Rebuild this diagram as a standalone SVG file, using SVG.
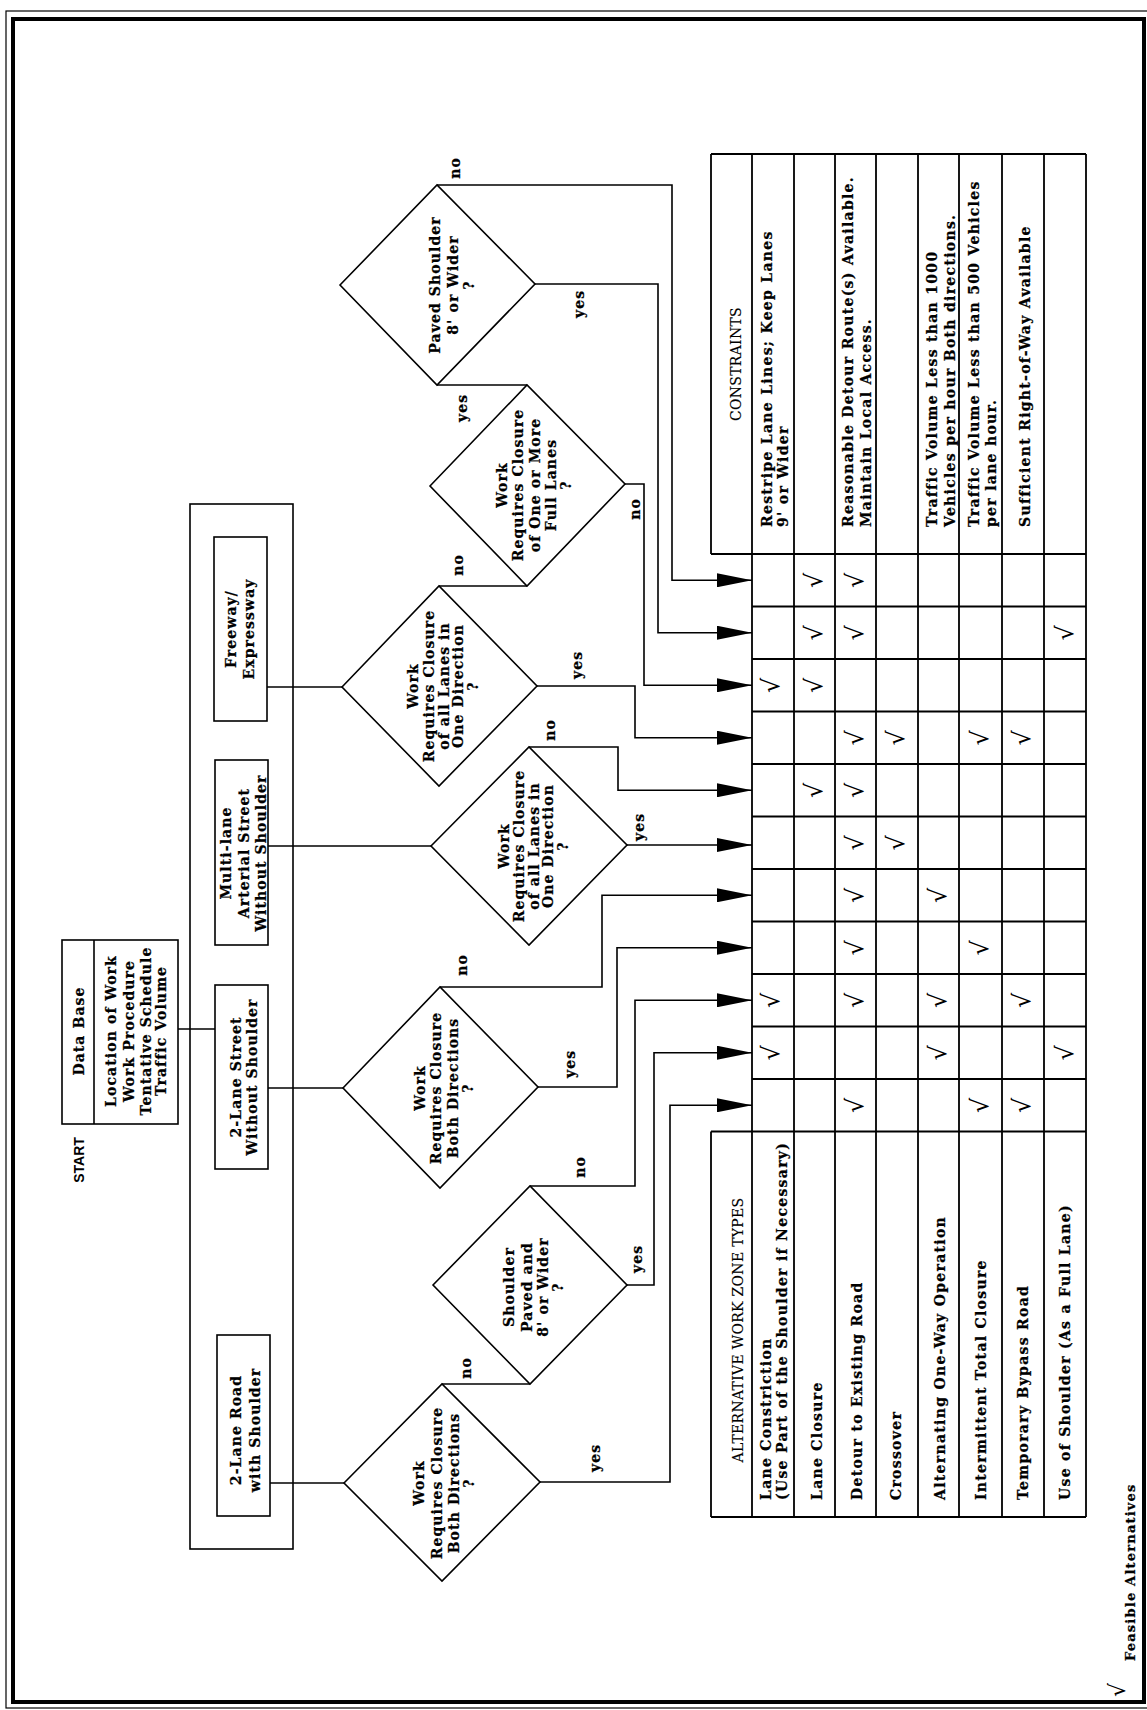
<svg xmlns="http://www.w3.org/2000/svg" width="1147" height="1710" viewBox="0 0 1147 1710">
<style>
.f{font-family:"DejaVu Serif","Liberation Serif",serif;font-weight:bold;font-size:14px;letter-spacing:1.1px;fill:#000;stroke:#000;stroke-width:0.25}
.m{text-anchor:middle}
.h{font-weight:normal;letter-spacing:0.3px;stroke-width:0.15}
.tt{letter-spacing:1.3px}
.s{font-family:"Liberation Sans",Arial,sans-serif;font-weight:bold;font-size:14px;fill:#000}
.ck{font-family:"DejaVu Sans",sans-serif;font-size:24px;text-anchor:middle;fill:#000}
.ln{fill:none;stroke:#000;stroke-width:1.6}
.tb{fill:none;stroke:#000;stroke-width:1.8}
.nd{fill:#fff;stroke:#000;stroke-width:1.6}
</style>
<defs>
<marker id="ah" markerUnits="userSpaceOnUse" markerWidth="36" markerHeight="14" refX="35" refY="7" orient="auto"><path d="M0,0 L35,7 L0,14 z" fill="#000"/></marker>
</defs>
<rect width="1147" height="1710" fill="#fff"/>
<g id="frame">
<rect x="6" y="11" width="1150" height="1697" fill="none" stroke="#000" stroke-width="1.2"/>
<rect x="13" y="19" width="1131" height="1683" fill="none" stroke="#000" stroke-width="4"/>
</g>
<g id="connectors" class="ln">
<path d="M437,185 H672 V580.25 H752" marker-end="url(#ah)"/>
<path d="M535,284 H658 V632.75 H752" marker-end="url(#ah)"/>
<path d="M437,385 H527"/>
<path d="M625,484 H644 V685.25 H752" marker-end="url(#ah)"/>
<path d="M439,586 H527"/>
<path d="M537,686 H635 V737.75 H752" marker-end="url(#ah)"/>
<path d="M267,687 H342"/>
<path d="M529,747 H618 V790.25 H752" marker-end="url(#ah)"/>
<path d="M627,845 H752" marker-end="url(#ah)"/>
<path d="M268,846 H431"/>
<path d="M440,987 H602 V895.25 H752" marker-end="url(#ah)"/>
<path d="M538,1087 H617 V947.75 H752" marker-end="url(#ah)"/>
<path d="M268,1088 H343"/>
<path d="M530,1186 H635 V1000.25 H752" marker-end="url(#ah)"/>
<path d="M627,1285 H654 V1052.75 H752" marker-end="url(#ah)"/>
<path d="M442,1384 H530"/>
<path d="M540,1482 H670 V1105.25 H752" marker-end="url(#ah)"/>
<path d="M270,1483 H344"/>
<path d="M178,1029 H215"/>
</g>
<g id="labels" class="f m">
<text transform="translate(0,168) rotate(-90)" y="460">no</text>
<text transform="translate(0,304) rotate(-90)" y="584">yes</text>
<text transform="translate(0,408) rotate(-90)" y="467">yes</text>
<text transform="translate(0,509) rotate(-90)" y="640">no</text>
<text transform="translate(0,565) rotate(-90)" y="463">no</text>
<text transform="translate(0,665) rotate(-90)" y="582">yes</text>
<text transform="translate(0,730) rotate(-90)" y="555">no</text>
<text transform="translate(0,827) rotate(-90)" y="644">yes</text>
<text transform="translate(0,965) rotate(-90)" y="467">no</text>
<text transform="translate(0,1064) rotate(-90)" y="575">yes</text>
<text transform="translate(0,1167) rotate(-90)" y="585">no</text>
<text transform="translate(0,1259) rotate(-90)" y="642">yes</text>
<text transform="translate(0,1368) rotate(-90)" y="471">no</text>
<text transform="translate(0,1458) rotate(-90)" y="600">yes</text>
</g>
<g id="start"><text class="s m" transform="translate(0,1160) rotate(-90)" y="84">START</text></g>
<g id="database">
<rect x="62" y="940" width="116" height="184" class="nd"/>
<line x1="94" y1="940" x2="94" y2="1124" class="ln"/>
<text class="f m" transform="translate(0,1031) rotate(-90)"><tspan x="0" y="84">Data Base</tspan><tspan x="0" y="116">Location of Work</tspan><tspan x="0" y="134">Work Procedure</tspan><tspan x="0" y="151">Tentative Schedule</tspan><tspan x="0" y="166">Traffic Volume</tspan></text>
</g>
<g id="roadtypes">
<rect x="190" y="504" width="103" height="1045" fill="none" stroke="#000" stroke-width="1.6"/>
</g>
<g id="freeway">
<rect x="214" y="537" width="53" height="184" class="nd"/>
<text class="f m" transform="translate(0,629) rotate(-90)"><tspan x="0" y="236">Freeway/</tspan><tspan x="0" y="254">Expressway</tspan></text>
</g>
<g id="multilane">
<rect x="215" y="760" width="53" height="185" class="nd"/>
<text class="f m" transform="translate(0,853) rotate(-90)"><tspan x="0" y="231">Multi-lane</tspan><tspan x="0" y="249">Arterial Street</tspan><tspan x="0" y="266">Without Shoulder</tspan></text>
</g>
<g id="street2">
<rect x="215" y="985" width="53" height="184" class="nd"/>
<text class="f m" transform="translate(0,1077) rotate(-90)"><tspan x="0" y="241">2-Lane Street</tspan><tspan x="0" y="257">Without Shoulder</tspan></text>
</g>
<g id="road2">
<rect x="217" y="1335" width="53" height="181" class="nd"/>
<text class="f m" transform="translate(0,1430) rotate(-90)"><tspan x="0" y="241">2-Lane Road</tspan><tspan x="0" y="260">with Shoulder</tspan></text>
</g>
<g id="d-paved">
<polygon points="340,285 437,185 535,284 437,385" class="nd"/>
<text class="f m" transform="translate(0,285) rotate(-90)"><tspan x="0" y="440">Paved Shoulder</tspan><tspan x="0" y="458">8' or Wider</tspan><tspan x="0" y="474">?</tspan></text>
</g>
<g id="d-fulllanes">
<polygon points="430,486 527,385 625,484 527,586" class="nd"/>
<text class="f m" transform="translate(0,485) rotate(-90)"><tspan x="0" y="507">Work</tspan><tspan x="0" y="523">Requires Closure</tspan><tspan x="0" y="540">of One or More</tspan><tspan x="0" y="556">Full Lanes</tspan><tspan x="0" y="571">?</tspan></text>
</g>
<g id="d-freeway">
<polygon points="342,687 439,586 537,686 439,786" class="nd"/>
<text class="f m" transform="translate(0,686) rotate(-90)"><tspan x="0" y="418">Work</tspan><tspan x="0" y="434">Requires Closure</tspan><tspan x="0" y="449">of all Lanes in</tspan><tspan x="0" y="463">One Direction</tspan><tspan x="0" y="478">?</tspan></text>
</g>
<g id="d-multilane">
<polygon points="431,846 529,747 627,845 529,945" class="nd"/>
<text class="f m" transform="translate(0,846) rotate(-90)"><tspan x="0" y="509">Work</tspan><tspan x="0" y="524">Requires Closure</tspan><tspan x="0" y="539">of all Lanes in</tspan><tspan x="0" y="553">One Direction</tspan><tspan x="0" y="568">?</tspan></text>
</g>
<g id="d-street">
<polygon points="343,1088 440,987 538,1087 440,1188" class="nd"/>
<text class="f m" transform="translate(0,1088) rotate(-90)"><tspan x="0" y="425">Work</tspan><tspan x="0" y="441">Requires Closure</tspan><tspan x="0" y="458">Both Directions</tspan><tspan x="0" y="473">?</tspan></text>
</g>
<g id="d-shoulder">
<polygon points="433,1285 530,1186 627,1285 530,1384" class="nd"/>
<text class="f m" transform="translate(0,1287) rotate(-90)"><tspan x="0" y="514">Shoulder</tspan><tspan x="0" y="532">Paved and</tspan><tspan x="0" y="548">8' or Wider</tspan><tspan x="0" y="563">?</tspan></text>
</g>
<g id="d-road">
<polygon points="344,1483 442,1384 540,1482 442,1581" class="nd"/>
<text class="f m" transform="translate(0,1483) rotate(-90)"><tspan x="0" y="424">Work</tspan><tspan x="0" y="442">Requires Closure</tspan><tspan x="0" y="459">Both Directions</tspan><tspan x="0" y="474">?</tspan></text>
</g>
<g id="table">
<g class="tb">
<path d="M711,154 H1086 M711,554 H1086 M752,606.5 H1086 M752,659 H1086 M752,711.5 H1086 M752,764 H1086 M752,816.5 H1086 M752,869 H1086 M752,921.5 H1086 M752,974 H1086 M752,1026.5 H1086 M752,1079 H1086 M711,1131.5 H1086 M711,1517 H1086"/>
<path d="M711,154 V554 M711,1131.5 V1517 M752,154 V1517 M794,154 V1517 M835,154 V1517 M876,154 V1517 M918,154 V1517 M959,154 V1517 M1002,154 V1517 M1044,154 V1517 M1086,154 V1517"/>
</g>
<text class="f m h" transform="translate(0,364) rotate(-90)" y="741">CONSTRAINTS</text>
<text class="f tt" transform="translate(0,527) rotate(-90)"><tspan x="0" y="772">Restripe Lane Lines; Keep Lanes</tspan><tspan x="0" y="788">9' or Wider</tspan><tspan x="0" y="853">Reasonable Detour Route(s) Available.</tspan><tspan x="0" y="871">Maintain Local Access.</tspan><tspan x="0" y="937">Traffic Volume Less than 1000</tspan><tspan x="0" y="955">Vehicles per hour Both directions.</tspan><tspan x="0" y="979">Traffic Volume Less than 500 Vehicles</tspan><tspan x="0" y="996">per lane hour.</tspan><tspan x="0" y="1030">Sufficient Right-of-Way Available</tspan></text>
<text class="f m h" transform="translate(0,1330) rotate(-90)" y="743">ALTERNATIVE WORK ZONE TYPES</text>
<text class="f tt" transform="translate(0,1500) rotate(-90)"><tspan x="0" y="771">Lane Constriction</tspan><tspan x="0" y="787">(Use Part of the Shoulder if Necessary)</tspan><tspan x="0" y="822">Lane Closure</tspan><tspan x="0" y="862">Detour to Existing Road</tspan><tspan x="0" y="901">Crossover</tspan><tspan x="0" y="945">Alternating One-Way Operation</tspan><tspan x="0" y="986">Intermittent Total Closure</tspan><tspan x="0" y="1028">Temporary Bypass Road</tspan><tspan x="0" y="1070">Use of Shoulder (As a Full Lane)</tspan></text>
<g class="ck">
<text transform="translate(0,580.25) rotate(-90)"><tspan x="0" y="821.5">√</tspan><tspan x="0" y="862.5">√</tspan></text>
<text transform="translate(0,632.75) rotate(-90)"><tspan x="0" y="821.5">√</tspan><tspan x="0" y="862.5">√</tspan><tspan x="0" y="1072.5">√</tspan></text>
<text transform="translate(0,685.25) rotate(-90)"><tspan x="0" y="779">√</tspan><tspan x="0" y="821.5">√</tspan></text>
<text transform="translate(0,737.75) rotate(-90)"><tspan x="0" y="862.5">√</tspan><tspan x="0" y="904">√</tspan><tspan x="0" y="987.5">√</tspan><tspan x="0" y="1030">√</tspan></text>
<text transform="translate(0,790.25) rotate(-90)"><tspan x="0" y="821.5">√</tspan><tspan x="0" y="862.5">√</tspan></text>
<text transform="translate(0,842.75) rotate(-90)"><tspan x="0" y="862.5">√</tspan><tspan x="0" y="904">√</tspan></text>
<text transform="translate(0,895.25) rotate(-90)"><tspan x="0" y="862.5">√</tspan><tspan x="0" y="945.5">√</tspan></text>
<text transform="translate(0,947.75) rotate(-90)"><tspan x="0" y="862.5">√</tspan><tspan x="0" y="987.5">√</tspan></text>
<text transform="translate(0,1000.25) rotate(-90)"><tspan x="0" y="779">√</tspan><tspan x="0" y="862.5">√</tspan><tspan x="0" y="945.5">√</tspan><tspan x="0" y="1030">√</tspan></text>
<text transform="translate(0,1052.75) rotate(-90)"><tspan x="0" y="779">√</tspan><tspan x="0" y="945.5">√</tspan><tspan x="0" y="1072.5">√</tspan></text>
<text transform="translate(0,1105.25) rotate(-90)"><tspan x="0" y="862.5">√</tspan><tspan x="0" y="987.5">√</tspan><tspan x="0" y="1030">√</tspan></text>
</g>
</g>
<g id="legend">
<text class="ck" style="font-size:22px" transform="translate(0,1690) rotate(-90)" y="1125">√</text>
<text class="f" style="font-size:13px;letter-spacing:1.2px" transform="translate(0,1661) rotate(-90)" y="1135">Feasible Alternatives</text>
</g>
</svg>
